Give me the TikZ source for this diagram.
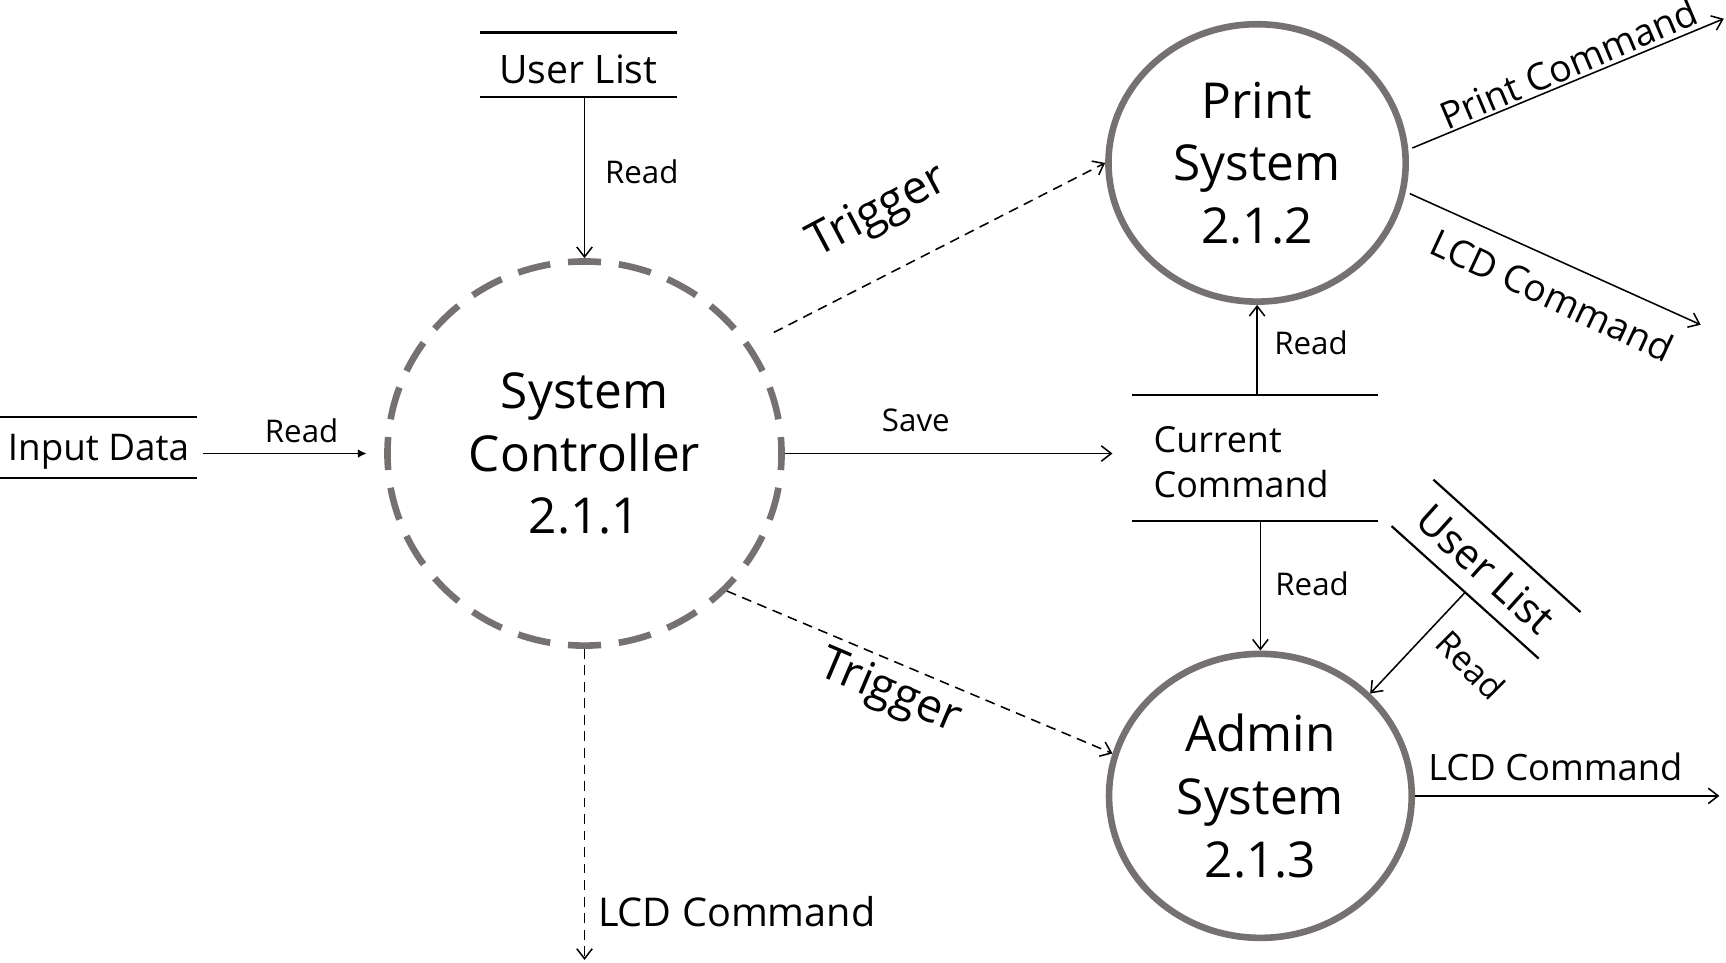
\documentclass[tikz,border=0pt]{standalone}
\usepackage{fontspec}
\setmainfont{Open Sans}
\usetikzlibrary{arrows.meta,shapes.geometric,calc}
\definecolor{cgray}{HTML}{767171}
\begin{document}
\begin{tikzpicture}[x=0.5pt,y=-0.5pt,
  proc/.style={ellipse, draw=cgray, line width=3pt, inner sep=0pt, align=center, font=\fontsize{22.5}{28.5}\selectfont},
  store/.style={inner sep=0pt},
  sline/.style={line width=1pt},
  flow/.style={line width=0.7pt, -{Straight Barb[length=4.5pt,width=7pt]}},
  dflow/.style={flow, dash pattern=on 4.5pt off 3pt},
  lbl/.style={inner sep=0pt, font=\fontsize{14.2}{16}\selectfont},
]
\useasboundingbox (0,0) rectangle (1568,874.8);

% processes
\node[proc, dash pattern=on 15pt off 8.14pt, dash phase=7.5pt, minimum width=179pt, minimum height=174.5pt] (sc) at (531,412) {System\\Controller\\2.1.1};
\node[proc, minimum width=135pt, minimum height=126pt] (ps) at (1142,148) {Print\\System\\2.1.2};
\node[proc, minimum width=137.5pt, minimum height=129pt] (as) at (1145,723) {Admin\\System\\2.1.3};

% stores
\node[store, minimum width=89.5pt, minimum height=29pt, text height=16.8pt, text depth=0pt, font=\fontsize{17.8}{20}\selectfont] (ul1) at (525.5,59) {User List};
\draw[sline] (ul1.north west) -- (ul1.north east);
\draw[sline] (ul1.south west) -- (ul1.south east);

\node[store, minimum width=89.5pt, minimum height=27.5pt, text height=12pt, text depth=0pt, font=\fontsize{16.7}{19}\selectfont] (id) at (89.5,406.5) {Input Data};
\draw[line width=0.8pt] (id.north west) -- (id.north east);
\draw[line width=0.8pt] (id.south west) -- (id.south east);

\node[store, minimum width=111pt, minimum height=57pt, text width=92pt, text height=16pt, align=left, font=\fontsize{16.3}{20.5}\selectfont] (cc) at (1140,416) {Current\\Command};
\draw[sline] (cc.north west) -- (cc.north east);
\draw[sline] (cc.south west) -- (cc.south east);

\node[store, rotate=-42, minimum width=89.5pt, minimum height=28pt, font=\fontsize{19}{21}\selectfont] (ul2) at (1350,517) {User List};
\draw[sline] (ul2.north west) -- (ul2.north east);
\draw[sline] (ul2.south west) -- (ul2.south east);

% free ends
\coordinate (t1) at (703,302);
\coordinate (lcd1) at (531,872);
\coordinate (pcE) at (1566,17);
\coordinate (plE) at (1545,295);
\coordinate (alE) at (1562,723);

% connectors
\draw[flow] (ul1.south -| sc.north) -- (sc.north);
\draw[line width=0.7pt, -{Latex[length=4pt,width=4pt]}, shorten <=2.5pt, shorten >=8pt] (id.east |- sc.west) -- (sc.west);
\draw[flow, shorten >=9pt] (sc.east) -- (sc.east -| cc.west);
\draw[dflow] (t1) -- (ps.west);
\draw[dflow] (sc.-44) -- (as.164);
\draw[dflow] (sc.south) -- (lcd1);
\draw[flow, shorten <=2pt] (ps.5) -- (pcE);
\draw[flow, shorten <=2pt] (ps.-11) -- (plE);
\draw[flow] (ps.south |- cc.north) -- (ps.south);
\draw[flow] (as.north |- cc.south) -- (as.north);
\draw[flow] (ul2.south) -- (as.43);
\draw[flow] (as.east) -- (alE);

% labels
\node[lbl] at (583,156) {Read};
\node[lbl] at (274,391) {Read};
\node[lbl] at (832,382) {Save};
\node[lbl, font=\fontsize{21}{24}\selectfont, rotate=28] at (798,193) {Trigger};
\node[lbl, font=\fontsize{21}{24}\selectfont, rotate=-23] at (808,630) {Trigger};
\node[lbl, font=\fontsize{18}{20}\selectfont, anchor=west] at (543,828) {LCD Command};
\node[lbl, font=\fontsize{17}{20}\selectfont, rotate=23] at (1425,58) {Print Command};
\node[lbl, font=\fontsize{17}{20}\selectfont, rotate=-25] at (1410,268) {LCD Command};
\node[lbl] at (1191,311) {Read};
\node[lbl] at (1192,530) {Read};
\node[lbl, font=\fontsize{16.5}{19}\selectfont] at (1413,697) {LCD Command};
\node[lbl, font=\fontsize{15.5}{18}\selectfont, rotate=-45] at (1336,604) {Read};
\end{tikzpicture}
\end{document}
